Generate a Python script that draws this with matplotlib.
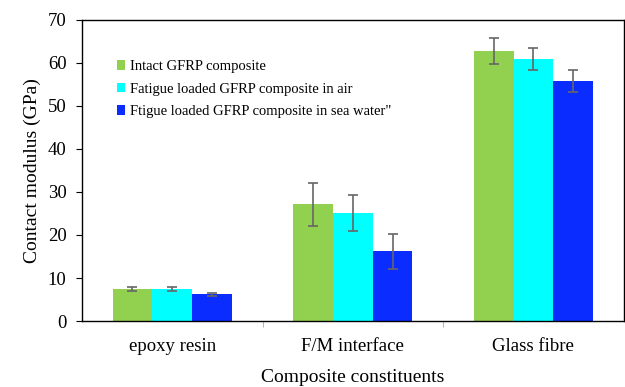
import matplotlib.pyplot as plt
import numpy as np

plt.rcParams['font.family'] = ['Liberation Serif', 'DejaVu Serif']

# data
categories = ['epoxy resin', 'F/M interface', 'Glass fibre']
series = ['Intact GFRP composite',
          'Fatigue loaded GFRP composite in air',
          'Ftigue loaded GFRP composite in sea water"']
intact = [7.4, 27.2, 62.8]
intact_err = [0.5, 5.0, 3.1]
air = [7.4, 25.1, 60.9]
air_err = [0.4, 4.1, 2.6]
sea = [6.2, 16.2, 55.8]
sea_err = [0.3, 4.0, 2.6]
colors = ['#92D050', '#00FFFF', '#0A2CFF']

fig = plt.figure(figsize=(6.25, 3.87), dpi=100)
ax = fig.add_axes([0.131, 0.1705, 0.867, 0.778])

x = np.arange(len(categories))
w = 0.22
vals = [intact, air, sea]
errs = [intact_err, air_err, sea_err]
for i in range(3):
    ax.bar(x + (i - 1) * w, vals[i], w, color=colors[i], label=series[i],
           yerr=errs[i], capsize=3.5,
           error_kw=dict(ecolor='#666666', elinewidth=1.2, capthick=1.2))

ax.set_xlim(-0.5, 2.5)
ax.set_ylim(0, 70)
ax.set_yticks(range(0, 71, 10))
ax.set_xticks(x)
ax.set_xticklabels(categories, fontsize=13.5)
ax.tick_params(axis='x', length=0, pad=12)
ax.set_xticks([0.5, 1.5], minor=True)
ax.tick_params(axis='x', which='minor', length=4, color='#aaaaaa')
ax.tick_params(axis='y', labelsize=13.5, length=4, direction='out', pad=7)
for s in ax.spines.values():
    s.set_linewidth(1.0)

ax.set_ylabel('Contact modulus (GPa)', fontsize=14, labelpad=5)
ax.set_xlabel('Composite constituents', fontsize=14, labelpad=10)

ax.legend(loc='upper left', bbox_to_anchor=(0.04, 0.91), frameon=False,
          fontsize=10.5, handlelength=0.6, handleheight=0.6,
          handletextpad=0.3, labelspacing=0.65)

fig.savefig('out.png', dpi=100)
